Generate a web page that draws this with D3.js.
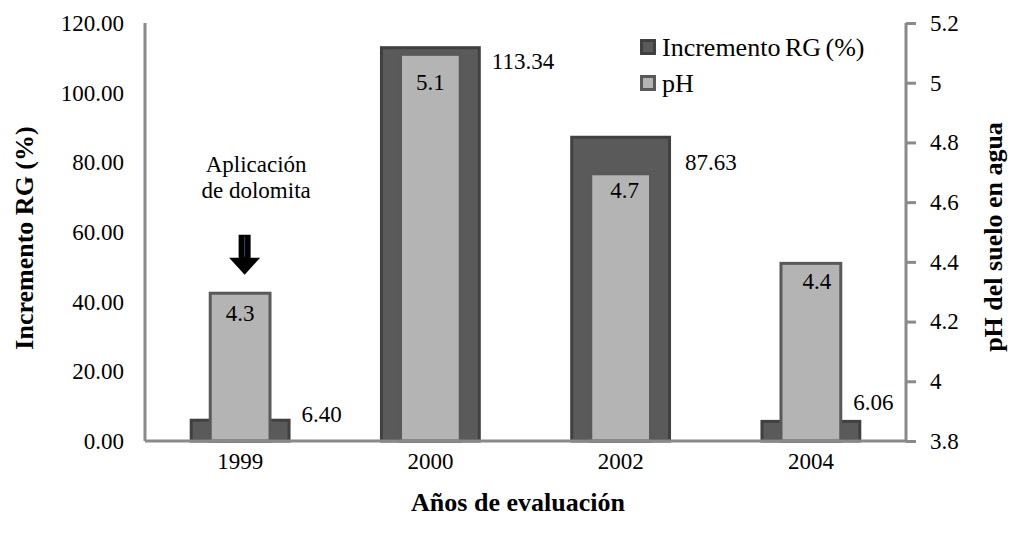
<!DOCTYPE html>
<html>
<head>
<meta charset="utf-8">
<script src="https://cdn.jsdelivr.net/npm/d3@7"></script>
<style>
  html, body { margin: 0; padding: 0; background: #fff; }
  svg { display: block; }
  svg text { font-family: "Liberation Serif", "Times New Roman", Times, "DejaVu Serif", serif; }
</style>
</head>
<body>
<svg id="chart" width="1010" height="539"></svg>
<script>
// ---- data ----
const categories = ["1999", "2000", "2002", "2004"];
const incrementoRG = [6.40, 113.34, 87.63, 6.06];
const phValues = [4.3, 5.1, 4.7, 4.4];
const incLabels = ["6.40", "113.34", "87.63", "6.06"];
const phLabels = ["4.3", "5.1", "4.7", "4.4"];
const leftTicks = [0, 20, 40, 60, 80, 100, 120];
const rightTicks = [3.8, 4.0, 4.2, 4.4, 4.6, 4.8, 5.0, 5.2];
const seriesNames = ["Incremento RG (%)", "pH"];
const annotationLines = ["Aplicación", "de dolomita"];

// ---- layout ----
const FONT = "'Liberation Serif', 'Times New Roman', Times, 'DejaVu Serif', serif";
const plot = { left: 145, right: 906, top: 23, bottom: 441 };
const svg = d3.select("#chart");

const x = d3.scaleBand().domain(categories).range([plot.left, plot.right]).padding(0);
const yL = d3.scaleLinear().domain([0, 120]).range([plot.bottom, plot.top]);
const yR = d3.scaleLinear().domain([3.8, 5.2]).range([plot.bottom, plot.top]);

const bw = x.bandwidth();
const darkW = bw * 0.53;
const lightW = bw * 0.33;
const sw = 3;

const darkFill = "#5a5a5a", darkStroke = "#404040";
const lightFill = "#b4b4b4", lightStroke = "#595959";
const axisColor = "#8a8a8a";

// dark bars (Incremento RG)
svg.append("g").selectAll("rect").data(incrementoRG).join("rect")
  .attr("x", (d, i) => x(categories[i]) + bw / 2 - darkW / 2 + sw / 2)
  .attr("y", d => yL(d) + sw / 2)
  .attr("width", darkW - sw)
  .attr("height", d => yL(0) - yL(d) - sw / 2)
  .attr("fill", darkFill).attr("stroke", darkStroke).attr("stroke-width", sw);

// light bars (pH)
svg.append("g").selectAll("rect").data(phValues).join("rect")
  .attr("x", (d, i) => x(categories[i]) + bw / 2 - lightW / 2 + sw / 2)
  .attr("y", d => yR(d) + sw / 2)
  .attr("width", lightW - sw)
  .attr("height", d => yR(3.8) - yR(d) - sw / 2)
  .attr("fill", lightFill).attr("stroke", lightStroke).attr("stroke-width", sw);

// ---- axes ----
const leftAxis = d3.axisLeft(yL).tickValues(leftTicks).tickSize(0).tickPadding(21)
  .tickFormat(d3.format(".2f"));
const gL = svg.append("g").attr("transform", `translate(${plot.left},0)`).call(leftAxis);

const rightAxis = d3.axisRight(yR).tickValues(rightTicks).tickSize(10).tickPadding(14)
  .tickFormat(d => String(+d.toFixed(1)));
const gR = svg.append("g").attr("transform", `translate(${plot.right},0)`).call(rightAxis);

const bottomAxis = d3.axisBottom(x).tickSize(0).tickPadding(12);
const gB = svg.append("g").attr("transform", `translate(0,${plot.bottom})`).call(bottomAxis);

[gL, gR, gB].forEach(g => {
  g.attr("font-family", FONT).attr("font-size", 23);
  g.select(".domain").attr("stroke", axisColor).attr("stroke-width", sw);
  g.selectAll(".tick line").attr("stroke", axisColor).attr("stroke-width", sw);
  g.selectAll(".tick text").attr("fill", "#000")
    .style("font-family", FONT)
    .style("font-size", "23px");
});
gL.select(".domain").attr("d", `M0,${plot.top}V${plot.bottom}`);
gR.select(".domain").attr("d", `M0,${plot.top}V${plot.bottom}`);
gB.select(".domain").attr("d", `M${plot.left},0H${plot.right}`);

// ---- data labels ----
const incNudge = [[11, 3], [11, 23], [14, 34], [-8, -10]];
svg.append("g").selectAll("text").data(incrementoRG).join("text")
  .attr("x", (d, i) => x(categories[i]) + bw / 2 + darkW / 2 + incNudge[i][0])
  .attr("y", (d, i) => yL(d) + incNudge[i][1])
  .attr("font-size", 23).attr("fill", "#000")
  .text((d, i) => incLabels[i]);

const phNudge = [[0, 29], [0, 37], [4, 26], [6, 27]];
svg.append("g").selectAll("text").data(phValues).join("text")
  .attr("x", (d, i) => x(categories[i]) + bw / 2 + phNudge[i][0])
  .attr("y", (d, i) => yR(d) + phNudge[i][1])
  .attr("text-anchor", "middle")
  .attr("font-size", 23).attr("fill", "#000")
  .text((d, i) => phLabels[i]);

// ---- legend ----
const legend = svg.append("g").attr("transform", "translate(640,39)");
const legStyles = [[darkFill, darkStroke], [lightFill, lightStroke]];
seriesNames.forEach((name, i) => {
  const row = legend.append("g").attr("transform", `translate(0,${i * 36})`);
  row.append("rect").attr("x", 1.5).attr("y", 1.5).attr("width", 13).attr("height", 13)
    .attr("fill", legStyles[i][0]).attr("stroke", legStyles[i][1]).attr("stroke-width", sw);
  row.append("text").attr("x", 22).attr("y", 17).attr("font-size", 26)
    .attr("word-spacing", -2).attr("fill", "#000").text(name);
});

// ---- annotation ----
const annX = x(categories[0]) + bw / 2 + 16;
const ann = svg.append("text").attr("text-anchor", "middle").attr("font-size", 23).attr("fill", "#000");
annotationLines.forEach((line, i) => {
  ann.append("tspan").attr("x", annX).attr("y", 172 + i * 26).text(line);
});

// arrow pointing at the 1999 pH bar
const ax = x(categories[0]) + bw / 2 + 4.5;
const tipY = yR(phValues[0]) - 17;
const p = d3.path();
p.moveTo(ax - 6, tipY - 40);
p.lineTo(ax + 6, tipY - 40);
p.lineTo(ax + 6, tipY - 17);
p.lineTo(ax + 15.5, tipY - 17);
p.lineTo(ax, tipY);
p.lineTo(ax - 15.5, tipY - 17);
p.lineTo(ax - 6, tipY - 17);
p.closePath();
svg.append("path").attr("d", p.toString()).attr("fill", "#000");
svg.append("line").attr("x1", ax).attr("x2", ax).attr("y1", tipY - 38).attr("y2", tipY - 18)
  .attr("stroke", "#2a4a70").attr("stroke-width", 1);

// ---- axis titles ----
svg.append("text")
  .attr("transform", `translate(33,238) rotate(-90)`)
  .attr("text-anchor", "middle").attr("font-size", 26).attr("font-weight", "bold")
  .attr("fill", "#000").text("Incremento RG (%)");

svg.append("text")
  .attr("transform", `translate(1002,237) rotate(-90)`)
  .attr("text-anchor", "middle").attr("font-size", 26).attr("font-weight", "bold")
  .attr("fill", "#000").text("pH del suelo en agua");

svg.append("text")
  .attr("x", 518).attr("y", 511)
  .attr("text-anchor", "middle").attr("font-size", 26).attr("font-weight", "bold")
  .attr("fill", "#000").text("Años de evaluación");
</script>
</body>
</html>
